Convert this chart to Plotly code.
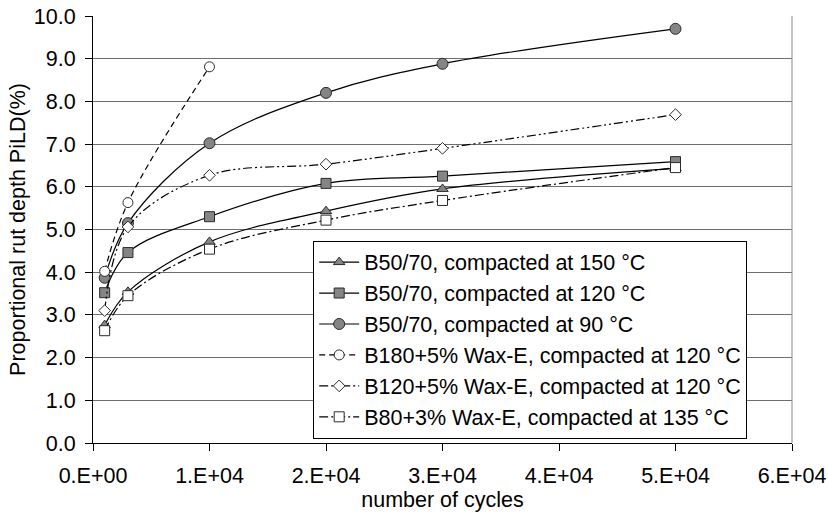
import plotly.graph_objects as go

# Loading cycles at which the rut depth was measured
cycles = [1000, 3000, 10000, 20000, 30000, 50000]
cycles_b180 = [1000, 3000, 10000]

# Proportional rut depth PiLD (%) per mixture
b5070_150 = [2.76, 3.54, 4.71, 5.43, 5.95, 6.43]
b5070_120 = [3.52, 4.46, 5.30, 6.08, 6.25, 6.59]
b5070_90 = [3.87, 5.15, 7.02, 8.20, 8.88, 9.70]
b180_wax = [4.02, 5.63, 8.81]
b120_wax = [3.10, 5.06, 6.27, 6.53, 6.90, 7.69]
b80_wax = [2.63, 3.45, 4.54, 5.22, 5.68, 6.45]

series_names = [
    "B50/70, compacted at 150 °C",
    "B50/70, compacted at 120 °C",
    "B50/70, compacted at 90 °C",
    "B180+5% Wax-E, compacted at 120 °C",
    "B120+5% Wax-E, compacted at 120 °C",
    "B80+3% Wax-E, compacted at 135 °C",
]

x_tick_vals = [0, 10000, 20000, 30000, 40000, 50000, 60000]
x_tick_text = ["0.E+00", "1.E+04", "2.E+04", "3.E+04", "4.E+04", "5.E+04", "6.E+04"]

FONT = "Liberation Sans, Arial, sans-serif"
FS = 21.5
GREY_FILL = "#858585"
EDGE = "#2a2a2a"

styles = [
    (cycles, b5070_150, "triangle-up", GREY_FILL, 10, "solid"),
    (cycles, b5070_120, "square", GREY_FILL, 10, "solid"),
    (cycles, b5070_90, "circle", GREY_FILL, 11, "solid"),
    (cycles_b180, b180_wax, "circle", "white", 10, "6px,4px"),
    (cycles, b120_wax, "diamond", "white", 9, "9px,3px,2px,3px,2px,3px"),
    (cycles, b80_wax, "square", "white", 10, "9px,3px,2px,3px"),
]

fig = go.Figure()
for name, (xs, ys, sym, fill, size, dash) in zip(series_names, styles):
    fig.add_trace(go.Scatter(
        x=xs, y=ys, name=name, mode="lines+markers",
        line=dict(color="black", width=1.2, dash=dash, shape="spline", smoothing=1.0),
        marker=dict(symbol=sym, size=size, color=fill, line=dict(color=EDGE, width=1)),
    ))

fig.update_layout(
    width=828, height=516,
    margin=dict(l=93, r=36, t=16, b=73, autoexpand=False),
    paper_bgcolor="white", plot_bgcolor="white",
    font=dict(family=FONT, size=FS, color="black"),
    showlegend=True,
    legend=dict(
        x=0.315, y=0.474, xanchor="left", yanchor="top",
        bgcolor="white", bordercolor="black", borderwidth=1,
        font=dict(family=FONT, size=FS, color="black"),
        tracegroupgap=0, itemwidth=40,
    ),
    xaxis=dict(
        range=[0, 60000], tickvals=x_tick_vals, ticktext=x_tick_text,
        showgrid=False, zeroline=False, automargin=False,
        showline=True, linecolor="black", linewidth=1,
        ticks="outside", ticklen=7, tickcolor="black",
        ticklabelstandoff=6,
        tickfont=dict(family=FONT, size=FS),
        title=dict(text="number of cycles", font=dict(family=FONT, size=FS), standoff=5),
    ),
    yaxis=dict(
        range=[0, 10], dtick=1, tickformat=".1f",
        showgrid=True, gridcolor="#6e6e6e", gridwidth=1, zeroline=False, automargin=False,
        showline=True, linecolor="black", linewidth=1,
        ticks="outside", ticklen=7, tickcolor="black",
        ticklabelstandoff=5,
        tickfont=dict(family=FONT, size=FS),
        title=dict(text="Proportional rut depth PiLD(%)", font=dict(family=FONT, size=FS), standoff=2),
    ),
    shapes=[
        dict(type="line", xref="x domain", yref="y domain", x0=1, x1=1, y0=0, y1=1,
             line=dict(color="#8a8a8a", width=1)),
    ],
)

fig.write_html("out.html")
